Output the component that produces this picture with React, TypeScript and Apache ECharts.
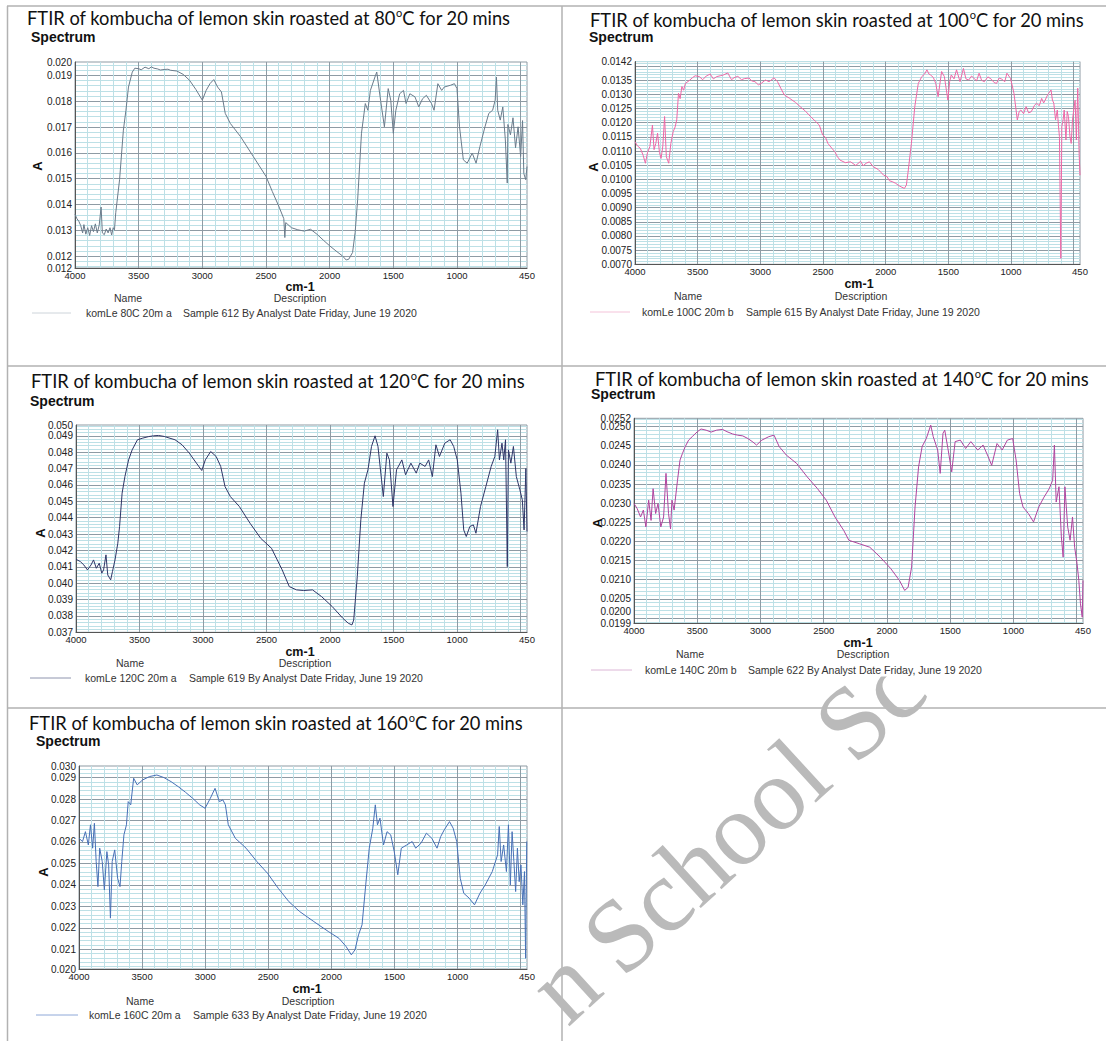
import React, { useEffect, useRef } from "react";
import * as echarts from "echarts";

// ---------------- DATA ----------------
const temperatures = ["80", "100", "120", "140", "160"];
const sampleNames = ["komLe 80C 20m a", "komLe 100C 20m b", "komLe 120C 20m a", "komLe 140C 20m b", "komLe 160C 20m a"];
const sampleDescriptions = [
  "Sample 612 By Analyst Date Friday, June 19 2020",
  "Sample 615 By Analyst Date Friday, June 19 2020",
  "Sample 619 By Analyst Date Friday, June 19 2020",
  "Sample 622 By Analyst Date Friday, June 19 2020",
  "Sample 633 By Analyst Date Friday, June 19 2020",
];
const yRanges: [number, number][] = [
  [0.01154, 0.01952],
  [0.007, 0.01416],
  [0.037, 0.04966],
  [0.01986, 0.02522],
  [0.02008, 0.02954],
];
const yMajorSteps = [0.001, 0.0005, 0.001, 0.0005, 0.001];
const yMinorSteps = [0.0002, 0.0001, 0.0002, 0.0001, 0.0002];
const yBaseSteps = [0.00002, 0.0001, 0.0001, 0.00002, 0.00002];
const yDecimals = [3, 4, 3, 4, 3];
const xRange: [number, number] = [450, 4000];

const spectrum80C: [number, number][] = [
  [4000, 0.01362], [3985, 0.01345], [3970, 0.01335], [3955, 0.01318], [3940, 0.0129], [3930, 0.01322], [3915, 0.01285],
  [3900, 0.0131], [3885, 0.0128], [3870, 0.01318], [3855, 0.01295], [3840, 0.01325], [3825, 0.0129], [3810, 0.0132],
  [3795, 0.0139], [3785, 0.0129], [3770, 0.01283], [3755, 0.01305], [3740, 0.0129], [3725, 0.0131], [3712, 0.01282],
  [3700, 0.0131], [3690, 0.01302], [3680, 0.01368], [3650, 0.01496], [3620, 0.01688], [3600, 0.01765], [3580, 0.01855],
  [3550, 0.01913], [3530, 0.01928], [3500, 0.01926], [3480, 0.01922], [3450, 0.01932], [3420, 0.01926], [3400, 0.01933],
  [3380, 0.01928], [3350, 0.01925], [3330, 0.01921], [3300, 0.01923], [3270, 0.01924], [3250, 0.0192], [3200, 0.01917],
  [3150, 0.01904], [3100, 0.01881], [3050, 0.01845], [3000, 0.01804], [2970, 0.01842], [2940, 0.01868], [2910, 0.01884],
  [2880, 0.01855], [2850, 0.01836], [2820, 0.01753], [2780, 0.01714], [2700, 0.01663], [2600, 0.01586], [2500, 0.01509],
  [2450, 0.0145], [2400, 0.01394], [2360, 0.01345], [2352, 0.01272], [2345, 0.0133], [2300, 0.0131], [2250, 0.01302],
  [2200, 0.01297], [2150, 0.01304], [2100, 0.01285], [2050, 0.01262], [2000, 0.0124], [1950, 0.0122], [1900, 0.01201],
  [1870, 0.01185], [1850, 0.01188], [1820, 0.01214], [1800, 0.01291], [1780, 0.01419], [1750, 0.01676], [1720, 0.01791],
  [1700, 0.01765], [1680, 0.01842], [1640, 0.019], [1630, 0.01913], [1600, 0.01804], [1570, 0.01701], [1540, 0.01849],
  [1520, 0.01804], [1500, 0.01676], [1480, 0.01765], [1450, 0.01829], [1420, 0.01842], [1400, 0.01791], [1370, 0.01829],
  [1330, 0.01817], [1300, 0.01778], [1270, 0.0181], [1240, 0.01823], [1200, 0.01791], [1180, 0.01765], [1150, 0.01868],
  [1120, 0.01842], [1100, 0.01855], [1050, 0.01862], [1020, 0.01868], [1000, 0.01849], [980, 0.01701], [950, 0.01573],
  [920, 0.0156], [880, 0.01599], [850, 0.0156], [820, 0.01624], [780, 0.01701], [750, 0.01753], [720, 0.01765],
  [700, 0.01804], [690, 0.01894], [680, 0.01765], [660, 0.01727], [640, 0.01778], [620, 0.0165], [605, 0.01483],
  [600, 0.0171], [580, 0.0167], [560, 0.01736], [540, 0.0162], [520, 0.01701], [500, 0.01586], [485, 0.01725],
  [475, 0.0152], [460, 0.01496], [450, 0.01547],
];

const spectrum100C: [number, number][] = [
  [4000, 0.01133], [3980, 0.01118], [3958, 0.0111], [3935, 0.01085], [3917, 0.01057], [3900, 0.01095], [3881, 0.01116],
  [3861, 0.01192], [3848, 0.01105], [3834, 0.01127], [3820, 0.01163], [3805, 0.01095], [3792, 0.01074], [3778, 0.01118],
  [3764, 0.01222], [3750, 0.0108], [3731, 0.01057], [3714, 0.01127], [3695, 0.01169], [3680, 0.01185], [3667, 0.0121],
  [3653, 0.01304], [3640, 0.01285], [3626, 0.01328], [3612, 0.01315], [3598, 0.01339], [3570, 0.01348], [3542, 0.01359],
  [3520, 0.01366], [3487, 0.01363], [3460, 0.01352], [3432, 0.01365], [3400, 0.01372], [3375, 0.01355], [3348, 0.01363],
  [3320, 0.01366], [3293, 0.01369], [3260, 0.01376], [3230, 0.01352], [3210, 0.01359], [3180, 0.01364], [3150, 0.01352],
  [3127, 0.01356], [3090, 0.01358], [3070, 0.01348], [3043, 0.01345], [3016, 0.01334], [2990, 0.0134], [2960, 0.01351],
  [2930, 0.01345], [2891, 0.01359], [2863, 0.01345], [2835, 0.0132], [2808, 0.01298], [2766, 0.01286], [2720, 0.01272],
  [2683, 0.01257], [2640, 0.01241], [2600, 0.01222], [2560, 0.01205], [2530, 0.01192], [2503, 0.01157], [2480, 0.01148],
  [2461, 0.01127], [2430, 0.0111], [2406, 0.01098], [2385, 0.0108], [2364, 0.01068], [2322, 0.01059], [2280, 0.01062],
  [2239, 0.01049], [2200, 0.01064], [2180, 0.01048], [2156, 0.01057], [2130, 0.01062], [2100, 0.01045], [2060, 0.01035],
  [2017, 0.01015], [1990, 0.0101], [1970, 0.00995], [1948, 0.00992], [1920, 0.00986], [1892, 0.00977], [1870, 0.00972],
  [1851, 0.00968], [1835, 0.0098], [1823, 0.01021], [1795, 0.01127], [1768, 0.01257], [1740, 0.01339], [1712, 0.01363],
  [1690, 0.01372], [1671, 0.01387], [1655, 0.01372], [1643, 0.01369], [1620, 0.0136], [1601, 0.01339], [1582, 0.01292],
  [1554, 0.01381], [1532, 0.01363], [1504, 0.0128], [1490, 0.01345], [1477, 0.01369], [1455, 0.01355], [1435, 0.01387],
  [1407, 0.01345], [1380, 0.01392], [1360, 0.01355], [1338, 0.01351], [1315, 0.01365], [1296, 0.01357], [1275, 0.01348],
  [1255, 0.01375], [1235, 0.0135], [1213, 0.01345], [1185, 0.01362], [1158, 0.01354], [1135, 0.01342], [1116, 0.01339],
  [1095, 0.01358], [1074, 0.01354], [1050, 0.01345], [1033, 0.01375], [1005, 0.01357], [990, 0.0133], [977, 0.01304],
  [950, 0.0121], [935, 0.0124], [922, 0.01245], [900, 0.01232], [880, 0.01257], [860, 0.01235], [839, 0.01239],
  [815, 0.0126], [797, 0.01269], [775, 0.0126], [756, 0.01286], [740, 0.0127], [728, 0.0128], [712, 0.01295],
  [700, 0.01304], [681, 0.01316], [670, 0.0128], [659, 0.01269], [645, 0.0121], [631, 0.01245], [622, 0.0119],
  [614, 0.01151], [603, 0.00721], [595, 0.01186], [585, 0.0121], [576, 0.01245], [562, 0.01139], [552, 0.0124],
  [542, 0.01222], [530, 0.0115], [520, 0.01127], [510, 0.0121], [500, 0.01245], [489, 0.0128], [479, 0.01139],
  [468, 0.01322], [457, 0.01092], [450, 0.01015],
];

const spectrum120C: [number, number][] = [
  [4000, 0.04146], [3966, 0.04132], [3938, 0.04111], [3910, 0.04081], [3882, 0.04111], [3862, 0.04142], [3840, 0.04091],
  [3817, 0.04122], [3797, 0.04061], [3783, 0.04081], [3764, 0.04173], [3750, 0.0405], [3727, 0.0402], [3713, 0.04071],
  [3693, 0.04142], [3671, 0.04244], [3657, 0.04346], [3637, 0.0455], [3615, 0.04651], [3586, 0.04753], [3558, 0.04814],
  [3516, 0.04876], [3474, 0.04886], [3430, 0.04895], [3390, 0.049], [3350, 0.04902], [3305, 0.04896], [3260, 0.04885],
  [3221, 0.04876], [3165, 0.04845], [3108, 0.04794], [3052, 0.04733], [3010, 0.04688], [2982, 0.04753], [2940, 0.04804],
  [2897, 0.04774], [2861, 0.04713], [2827, 0.0459], [2785, 0.04529], [2714, 0.04468], [2630, 0.04366], [2546, 0.04274],
  [2461, 0.04213], [2377, 0.04081], [2321, 0.03979], [2264, 0.03959], [2208, 0.03955], [2138, 0.03959], [2067, 0.03918],
  [1983, 0.03857], [1899, 0.03785], [1856, 0.03755], [1828, 0.03745], [1814, 0.03775], [1786, 0.0404], [1758, 0.04387],
  [1730, 0.04611], [1702, 0.04692], [1674, 0.04835], [1646, 0.049], [1623, 0.04835], [1595, 0.04631], [1581, 0.04529],
  [1553, 0.04794], [1533, 0.04753], [1505, 0.04468], [1477, 0.04692], [1435, 0.04753], [1406, 0.04662], [1364, 0.04733],
  [1322, 0.04672], [1294, 0.04733], [1252, 0.04713], [1224, 0.04753], [1195, 0.04651], [1167, 0.04845], [1139, 0.04774],
  [1097, 0.04855], [1055, 0.04876], [1027, 0.04835], [999, 0.04753], [970, 0.0455], [948, 0.04325], [928, 0.04285],
  [900, 0.04346], [872, 0.04356], [852, 0.04305], [816, 0.04468], [774, 0.0459], [732, 0.04713], [703, 0.04774],
  [681, 0.04937], [667, 0.04753], [647, 0.04855], [633, 0.04753], [619, 0.04876], [605, 0.04101], [596, 0.04814],
  [577, 0.04733], [557, 0.04835], [534, 0.04651], [506, 0.0457], [487, 0.04509], [473, 0.04325], [459, 0.047],
  [450, 0.04315],
];

const spectrum140C: [number, number][] = [
  [4000, 0.02299], [3975, 0.02286], [3948, 0.02264], [3926, 0.02282], [3906, 0.02238], [3884, 0.02308], [3865, 0.02255],
  [3849, 0.02338], [3829, 0.02273], [3810, 0.02299], [3788, 0.02238], [3766, 0.02264], [3747, 0.02378], [3727, 0.02273],
  [3711, 0.02233], [3700, 0.02308], [3683, 0.02282], [3656, 0.0236], [3636, 0.02413], [3617, 0.0243], [3595, 0.02448],
  [3568, 0.02465], [3540, 0.02474], [3499, 0.02487], [3470, 0.02494], [3430, 0.02491], [3390, 0.02486], [3347, 0.02491],
  [3300, 0.02493], [3265, 0.02487], [3220, 0.02481], [3182, 0.02478], [3140, 0.02476], [3099, 0.02469], [3060, 0.0246],
  [3031, 0.02452], [2989, 0.02465], [2934, 0.02474], [2893, 0.02478], [2852, 0.02448], [2796, 0.02426], [2714, 0.02404],
  [2631, 0.02369], [2549, 0.02338], [2480, 0.02308], [2411, 0.02264], [2342, 0.02229], [2301, 0.02203], [2218, 0.02194],
  [2136, 0.02185], [2053, 0.02159], [1970, 0.02129], [1901, 0.02098], [1860, 0.02072], [1833, 0.0208], [1805, 0.02133],
  [1778, 0.0229], [1750, 0.02395], [1722, 0.02448], [1689, 0.02469], [1654, 0.02504], [1634, 0.02474], [1599, 0.02439],
  [1579, 0.02378], [1557, 0.02483], [1543, 0.02491], [1516, 0.02439], [1488, 0.02382], [1461, 0.02461], [1420, 0.02465],
  [1378, 0.02443], [1337, 0.02461], [1282, 0.02439], [1240, 0.02452], [1199, 0.02421], [1172, 0.02399], [1130, 0.02456],
  [1089, 0.02439], [1048, 0.02465], [1006, 0.02469], [979, 0.02413], [951, 0.02325], [924, 0.0229], [882, 0.02273],
  [841, 0.02251], [800, 0.0229], [758, 0.02316], [717, 0.02338], [690, 0.0236], [676, 0.02452], [662, 0.02303],
  [640, 0.02343], [621, 0.02212], [607, 0.02159], [593, 0.02343], [571, 0.02238], [552, 0.02203], [533, 0.02264],
  [516, 0.02185], [497, 0.02142], [483, 0.02098], [470, 0.02037], [456, 0.02002], [450, 0.02098],
];

const spectrum160C: [number, number][] = [
  [4000, 0.02617], [3972, 0.02602], [3949, 0.02648], [3926, 0.02586], [3909, 0.0268], [3892, 0.02571], [3878, 0.02687],
  [3864, 0.02509], [3850, 0.02392], [3836, 0.02571], [3816, 0.02509], [3799, 0.02377], [3779, 0.02555], [3765, 0.02493],
  [3751, 0.02245], [3737, 0.02509], [3717, 0.02563], [3694, 0.02431], [3675, 0.02392], [3661, 0.02509], [3644, 0.02633],
  [3624, 0.0268], [3610, 0.02788], [3590, 0.02773], [3567, 0.02897], [3539, 0.02866], [3496, 0.02889], [3440, 0.02905],
  [3383, 0.02912], [3327, 0.029], [3270, 0.02881], [3214, 0.02858], [3157, 0.02832], [3100, 0.02804], [3044, 0.02773],
  [3001, 0.02757], [2959, 0.02804], [2922, 0.0285], [2888, 0.02788], [2860, 0.02796], [2840, 0.02773], [2817, 0.0268],
  [2761, 0.02617], [2676, 0.02571], [2591, 0.02509], [2506, 0.02454], [2421, 0.02384], [2337, 0.02322], [2252, 0.02276],
  [2139, 0.02229], [2025, 0.02183], [1940, 0.02151], [1884, 0.02113], [1842, 0.02074], [1813, 0.02097], [1785, 0.02167],
  [1757, 0.02214], [1728, 0.024], [1700, 0.02571], [1672, 0.02664], [1652, 0.02773], [1635, 0.0268], [1615, 0.02711],
  [1587, 0.02586], [1559, 0.02648], [1530, 0.02633], [1502, 0.02555], [1474, 0.02447], [1446, 0.02571], [1403, 0.02586],
  [1360, 0.02602], [1332, 0.02571], [1290, 0.02594], [1247, 0.02641], [1204, 0.02617], [1163, 0.02571], [1134, 0.02625],
  [1106, 0.02656], [1064, 0.02695], [1035, 0.02664], [1007, 0.02602], [979, 0.02431], [951, 0.02361], [908, 0.02338],
  [866, 0.02307], [823, 0.02361], [781, 0.024], [725, 0.02462], [683, 0.0254], [670, 0.02672], [655, 0.02509],
  [635, 0.02586], [613, 0.02462], [597, 0.0268], [582, 0.024], [568, 0.02648], [554, 0.02509], [540, 0.02369],
  [526, 0.02571], [512, 0.02415], [498, 0.02493], [483, 0.02307], [470, 0.02462], [461, 0.02058], [452, 0.02602],
  [450, 0.026],
];

const spectra = [spectrum80C, spectrum100C, spectrum120C, spectrum140C, spectrum160C];

// ---------------- LAYOUT / STYLE ----------------
type Layout = {
  grid: [number, number, number, number];
  title: [number, number];
  spectrum: [number, number];
  aLabel: [number, number];
  cm: [number, number];
  name: [number, number];
  desc: [number, number];
  legendLine: [number, number, number];
  legendNameX: number;
  legendDescX: number;
};

const LAYOUT: Layout[] = [
  { grid: [75, 62, 452, 206], title: [27, 18], spectrum: [31, 37], aLabel: [37, 166], cm: [300, 287], name: [128, 298], desc: [300, 298], legendLine: [32, 71, 313], legendNameX: 86, legendDescX: 183 },
  { grid: [635, 61.6, 445, 202.7], title: [590, 20], spectrum: [589, 37], aLabel: [593, 167], cm: [859, 284], name: [688, 296], desc: [861, 296], legendLine: [590, 630, 312], legendNameX: 642, legendDescX: 746 },
  { grid: [76, 425, 451, 207.3], title: [31, 381], spectrum: [30, 401], aLabel: [40, 533], cm: [300, 652], name: [130, 663], desc: [305, 663], legendLine: [30, 71, 678], legendNameX: 85, legendDescX: 189 },
  { grid: [634, 418.3, 449, 205], title: [595, 379], spectrum: [591, 394], aLabel: [597, 523], cm: [858, 643], name: [690, 654], desc: [863, 654], legendLine: [591, 632, 670], legendNameX: 645, legendDescX: 748 },
  { grid: [79, 766, 448, 203], title: [29, 723], spectrum: [36, 741], aLabel: [43, 872], cm: [307, 989], name: [140, 1001], desc: [308, 1001], legendLine: [36, 78, 1015], legendNameX: 89, legendDescX: 193 },
];

const LINE_COLORS = ["#6b7b8b", "#ee68a6", "#2f3567", "#b0449e", "#4870b6"];
const LEGEND_COLORS = ["#cdd4da", "#f4c3d9", "#8e94ae", "#dcb6d6", "#8ea8d8"];

const FONT = '"Liberation Sans", Arial, sans-serif';
const TITLE_FONT = 'Lato, "Open Sans", sans-serif';
const SERIF = '"Liberation Serif", "DejaVu Serif", serif';
const MAJOR_GRID = "#8e9ba4";
const MINOR_GRID = "#bde0e6";
const CLEAR = "rgba(0,0,0,0)";
const TEXT = "#222";
const W = 1106;
const H = 1041;

function gridColors(min: number, base: number, minor: number, major: number): string[] {
  const n0 = Math.round(min / base);
  const majN = Math.round(major / base);
  const minN = Math.round(minor / base);
  const out: string[] = [];
  for (let k = 0; k < majN; k++) {
    const t = n0 + k;
    out.push(t % majN === 0 ? MAJOR_GRID : t % minN === 0 ? MINOR_GRID : CLEAR);
  }
  return out;
}

function buildOption() {
  const grids: any[] = [];
  const xAxes: any[] = [];
  const yAxes: any[] = [];
  const series: any[] = [];
  const graphics: any[] = [];

  // table borders
  const border = { stroke: "#b2b2b2", lineWidth: 1.5 };
  [6, 366, 708].forEach((y) =>
    graphics.push({ type: "line", z: -20, shape: { x1: 7, y1: y, x2: W, y2: y }, style: border })
  );
  [7.5, 562].forEach((x) =>
    graphics.push({ type: "line", z: -20, shape: { x1: x, y1: 6, x2: x, y2: H }, style: border })
  );

  // watermark (partially hidden behind the 140C panel's image area)
  const wmRot = (42.5 * Math.PI) / 180;
  const wmStyle = { fontFamily: SERIF, fontSize: 104, fill: "#bababa", align: "center", verticalAlign: "middle" };
  graphics.push({ type: "text", z: -10, x: 563, y: 984, rotation: wmRot, style: { ...wmStyle, text: "n" } });
  graphics.push({ type: "text", z: -10, x: 753, y: 812, rotation: wmRot, style: { ...wmStyle, text: "School Sc" } });
  graphics.push({ type: "rect", z: -5, shape: { x: 563.5, y: 367.5, width: W - 563.5, height: 309 }, style: { fill: "#fff" } });

  const xColors = gridColors(xRange[0], 50, 100, 500);

  spectra.forEach((data, i) => {
    const L = LAYOUT[i];
    const [gl, gt, gw, gh] = L.grid;
    const [ymin, ymax] = yRanges[i];
    const base = yBaseSteps[i];
    const major = yMajorSteps[i];
    const majN = Math.round(major / base);
    const dec = yDecimals[i];

    grids.push({
      left: gl,
      top: gt,
      width: gw,
      height: gh,
      show: true,
      backgroundColor: "#fff",
      borderColor: "#8d9aa3",
      borderWidth: 1,
      containLabel: false,
      outerBoundsMode: "none",
    });

    xAxes.push({
      gridIndex: i,
      type: "value",
      min: xRange[0],
      max: xRange[1],
      inverse: true,
      interval: 50,
      axisLine: { show: true, onZero: false, lineStyle: { color: "#555", width: 1 } },
      axisTick: { show: false },
      axisLabel: {
        show: true,
        margin: 2,
        fontSize: 9.5,
        fontFamily: FONT,
        color: TEXT,
        showMinLabel: true,
        showMaxLabel: true,
        formatter: (v: number) => {
          const r = Math.round(v);
          return r % 500 === 0 || r === xRange[0] ? String(r) : "";
        },
      },
      splitLine: { show: true, lineStyle: { color: xColors, width: 1 } },
    });

    yAxes.push({
      gridIndex: i,
      type: "value",
      min: ymin,
      max: ymax,
      interval: base,
      axisLine: { show: true, onZero: false, lineStyle: { color: "#555", width: 1 } },
      axisTick: { show: false },
      axisLabel: {
        show: true,
        margin: 3,
        fontSize: 10,
        fontFamily: FONT,
        color: TEXT,
        showMinLabel: true,
        showMaxLabel: true,
        rich: {
          up: { fontSize: 10, fontFamily: FONT, color: TEXT, padding: [0, 0, 12, 0] },
        },
        formatter: (v: number) => {
          const isMin = Math.abs(v - ymin) < base / 2;
          const isMax = Math.abs(v - ymax) < base / 2;
          const isMajor = Math.round(v / base) % majN === 0 && Math.abs(v / base - Math.round(v / base)) < 1e-3;
          if (!(isMin || isMax || isMajor)) return "";
          const s = v.toFixed(dec);
          const px = ((v - ymin) / (ymax - ymin)) * gh;
          if (isMajor && !isMax && gh - px < 7) return ""; // too close to the max label
          if (isMajor && !isMin && px < 9) return `{up|${s}}`;
          return s;
        },
      },
      splitLine: { show: true, lineStyle: { color: gridColors(ymin, base, yMinorSteps[i], major), width: 1 } },
    });

    series.push({
      type: "line",
      xAxisIndex: i,
      yAxisIndex: i,
      data,
      showSymbol: false,
      symbol: "none",
      lineStyle: { color: LINE_COLORS[i], width: 1 },
      itemStyle: { color: LINE_COLORS[i] },
      z: 3,
      clip: true,
    });

    // texts
    graphics.push({
      type: "text",
      z: 10,
      x: L.title[0],
      y: L.title[1],
      style: {
        text: `{t|FTIR of kombucha of lemon skin roasted at ${temperatures[i]}}{s|o}{t|C for 20 mins}`,
        align: "left",
        verticalAlign: "middle",
        rich: {
          t: { fontFamily: TITLE_FONT, fontSize: 18.3, fill: "#111", lineHeight: 18, verticalAlign: "middle" },
          s: { fontFamily: TITLE_FONT, fontSize: 11, fill: "#111", lineHeight: 8, height: 7, verticalAlign: "top" },
        },
      },
    });
    graphics.push({
      type: "text",
      z: 10,
      x: L.spectrum[0],
      y: L.spectrum[1],
      style: { text: "Spectrum", fontFamily: FONT, fontSize: 14, fontWeight: "bold", fill: "#111", align: "left", verticalAlign: "middle" },
    });
    graphics.push({
      type: "text",
      z: 10,
      x: L.aLabel[0],
      y: L.aLabel[1],
      rotation: Math.PI / 2,
      style: { text: "A", fontFamily: FONT, fontSize: 13, fontWeight: "bold", fill: "#111", align: "center", verticalAlign: "middle" },
    });
    graphics.push({
      type: "text",
      z: 10,
      x: L.cm[0],
      y: L.cm[1],
      style: { text: "cm-1", fontFamily: FONT, fontSize: 12.5, fontWeight: "bold", fill: "#111", align: "center", verticalAlign: "middle" },
    });
    graphics.push({
      type: "text",
      z: 10,
      x: L.name[0],
      y: L.name[1],
      style: { text: "Name", fontFamily: FONT, fontSize: 10.5, fill: "#333", align: "center", verticalAlign: "middle" },
    });
    graphics.push({
      type: "text",
      z: 10,
      x: L.desc[0],
      y: L.desc[1],
      style: { text: "Description", fontFamily: FONT, fontSize: 10.5, fill: "#333", align: "center", verticalAlign: "middle" },
    });
    const [lx1, lx2, ly] = L.legendLine;
    graphics.push({
      type: "line",
      z: 10,
      shape: { x1: lx1, y1: ly, x2: lx2, y2: ly },
      style: { stroke: LEGEND_COLORS[i], lineWidth: 1 },
    });
    graphics.push({
      type: "text",
      z: 10,
      x: L.legendNameX,
      y: ly,
      style: { text: sampleNames[i], fontFamily: FONT, fontSize: 10.5, fill: "#333", align: "left", verticalAlign: "middle" },
    });
    graphics.push({
      type: "text",
      z: 10,
      x: L.legendDescX,
      y: ly,
      style: { text: sampleDescriptions[i], fontFamily: FONT, fontSize: 10.5, fill: "#333", align: "left", verticalAlign: "middle" },
    });
  });

  return {
    animation: false,
    backgroundColor: "#fff",
    grid: grids,
    xAxis: xAxes,
    yAxis: yAxes,
    series,
    graphic: { elements: graphics },
  };
}

export default function App() {
  const ref = useRef<HTMLDivElement>(null);
  useEffect(() => {
    if (!ref.current) return;
    const chart = echarts.init(ref.current, undefined, { renderer: "svg", width: W, height: H });
    chart.setOption(buildOption() as any);
    return () => {
      chart.dispose();
    };
  }, []);
  return (
    <div
      ref={ref}
      style={{ position: "fixed", left: 0, top: 0, width: W, height: H, background: "#fff" }}
    />
  );
}
